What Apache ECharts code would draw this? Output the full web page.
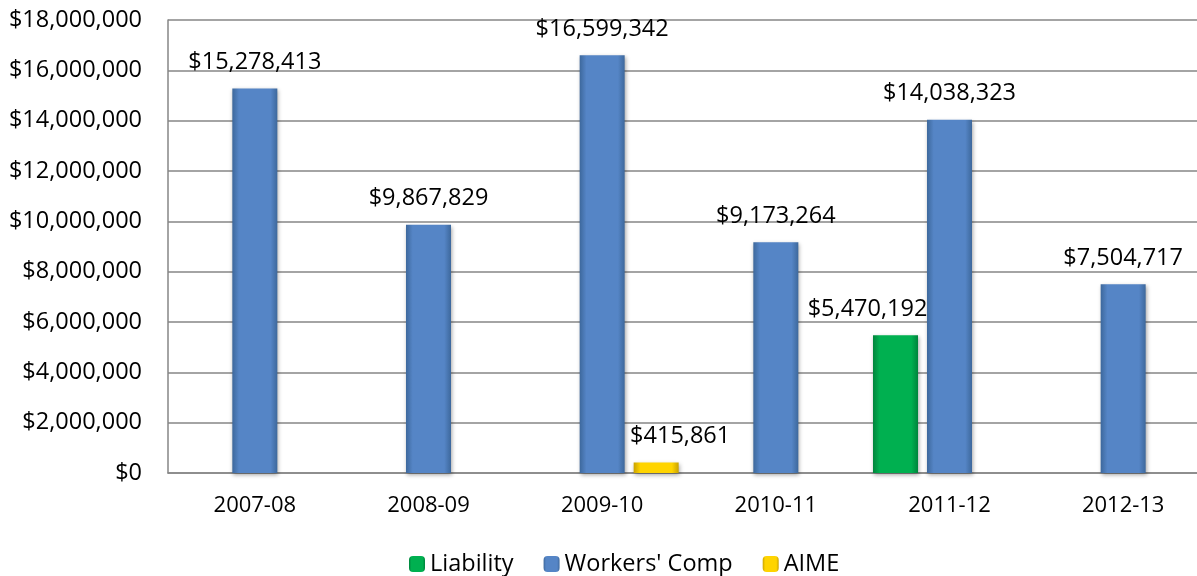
<!DOCTYPE html>
<html><head><meta charset="utf-8">
<script src="https://cdn.jsdelivr.net/npm/echarts@6/dist/echarts.min.js"></script>
<style>html,body{margin:0;padding:0;background:#fff;overflow:hidden}#c{width:1210px;height:576px}</style>
</head><body><div id="c"></div>
<script>
const categories = ['2007-08','2008-09','2009-10','2010-11','2011-12','2012-13'];
const liability = [null, null, null, null, 5470192, null];
const workersComp = [15278413, 9867829, 16599342, 9173264, 14038323, 7504717];
const aime = [null, null, 415861, null, null, null];
const yTicks = [0, 2000000, 4000000, 6000000, 8000000, 10000000, 12000000, 14000000, 16000000, 18000000];

const FONT = '"Open Sans", sans-serif';
function money(v){ return '$' + Math.round(v).toLocaleString('en-US'); }
function grad(dark, light){
  return new echarts.graphic.LinearGradient(0,0,1,0,[
    {offset:0,color:dark},{offset:0.15,color:light},{offset:0.85,color:light},{offset:1,color:dark}
  ]);
}
const labelBase = {show:true, position:'top', distance:14, fontFamily:FONT, fontSize:23.5, color:'#000',
  formatter: p => money(p.value)};

const chart = echarts.init(document.getElementById('c'));
chart.setOption({
  animation:false,
  grid:{left:168, right:0, top:20, bottom:103, containLabel:false},
  legend:{top:547, left:404, itemWidth:16, itemHeight:16, itemGap:30,
    textStyle:{fontFamily:FONT, fontSize:23.5, color:'#000'},
    data:['Liability',"Workers' Comp",'AIME']},
  xAxis:{type:'category', data:categories,
    axisLine:{lineStyle:{color:'#868686', width:1.5}}, axisTick:{show:false},
    axisLabel:{fontFamily:FONT, fontSize:22, color:'#000', margin:22}},
  yAxis:{type:'value', min:0, max:18000000, interval:2000000,
    axisLine:{show:true, lineStyle:{color:'#868686', width:1.5}}, axisTick:{show:false},
    splitLine:{lineStyle:{color:'#868686', width:1.5}},
    axisLabel:{fontFamily:FONT, fontSize:23.5, color:'#000', margin:26,
      formatter: v => yTicks.includes(v) ? money(v) : ''}},
  series:[
    {name:'Liability', type:'bar', data:liability.map(v=>v==null?'-':v), barWidth:45, barGap:'20%',
      itemStyle:{color:grad('#00843c','#00b050'),
        shadowColor:'rgba(0,0,0,0.35)', shadowBlur:4, shadowOffsetX:1, shadowOffsetY:2},
      label:Object.assign({}, labelBase, {offset:[-28,0]})},
    {name:"Workers' Comp", type:'bar', data:workersComp, barWidth:45, barGap:'20%',
      itemStyle:{color:grad('#3d689c','#5585c6'),
        shadowColor:'rgba(0,0,0,0.35)', shadowBlur:4, shadowOffsetX:1, shadowOffsetY:2},
      label:labelBase},
    {name:'AIME', type:'bar', data:aime.map(v=>v==null?'-':v), barWidth:45, barGap:'20%',
      itemStyle:{color:grad('#c9a200','#ffd400'),
        shadowColor:'rgba(0,0,0,0.35)', shadowBlur:4, shadowOffsetX:1, shadowOffsetY:2},
      label:Object.assign({}, labelBase, {offset:[24,0]})}
  ]
});
</script></body></html>
